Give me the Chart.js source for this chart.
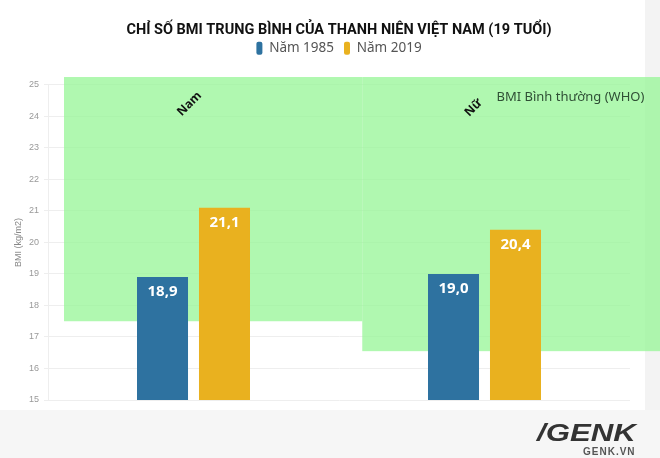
<!DOCTYPE html>
<html><head><meta charset="utf-8">
<script src="https://cdn.jsdelivr.net/npm/chart.js@4/dist/chart.umd.min.js"></script>
<style>html,body{margin:0;padding:0;background:#fff;}#wrap{width:660px;height:458px;position:relative;}</style>
</head><body><div id="wrap"><canvas id="c" width="660" height="458"></canvas></div>
<script>
const categories = ['Nam', 'Nữ'];
const seriesNames = ['Năm 1985', 'Năm 2019'];
const values1985 = [18.9, 19.0];
const values2019 = [21.1, 20.4];
const yMin = 15, yMax = 25, yStep = 1;
const normalTop = [25.25, 25.25];
const normalBottom = [17.5, 16.55];
const titleText = 'CHỈ SỐ BMI TRUNG BÌNH CỦA THANH NIÊN VIỆT NAM (19 TUỔI)';
const yTitle = 'BMI (kg/m2)';
const bandLabel = 'BMI Bình thường (WHO)';

const fmt = v => v.toFixed(1).replace('.', ',');

const bgPlugin = {
  id: 'bg',
  beforeInit(chart) {
    const lg = chart.legend;
    if (lg) {
      const orig = lg.fit.bind(lg);
      lg.fit = function () { orig(); this.height += 20; };
    }
  },
  beforeDraw(chart) {
    const ctx = chart.ctx;
    ctx.save();
    ctx.fillStyle = '#f6f6f6';
    ctx.fillRect(0, 410, chart.width, chart.height - 410);
    ctx.fillStyle = '#f3f3f3';
    ctx.fillRect(645, 0, chart.width - 645, 410);
    ctx.restore();
  }
};

const bandPlugin = {
  id: 'band',
  beforeDatasetsDraw(chart) {
    const ctx = chart.ctx, x = chart.scales.x, y = chart.scales.y;
    const step = x.getPixelForValue(1) - x.getPixelForValue(0);
    const edges = [x.getPixelForValue(0) - 0.445 * step, x.getPixelForValue(0) + 0.58 * step, x.getPixelForValue(1) + 0.61 * step];
    ctx.save();
    ctx.fillStyle = 'rgba(150,245,150,0.75)';
    for (let i = 0; i < categories.length; i++) {
      const t = y.getPixelForValue(normalTop[i]);
      const b = y.getPixelForValue(normalBottom[i]);
      ctx.fillRect(edges[i], t, edges[i + 1] - edges[i], b - t);
    }
    ctx.fillStyle = '#111';
    ctx.font = 'bold 12px "Open Sans", sans-serif';
    ctx.textAlign = 'center';
    ctx.textBaseline = 'middle';
    const catY = [24.4, 24.27];
    const catDx = [-4, -11];
    for (let i = 0; i < categories.length; i++) {
      ctx.save();
      ctx.translate(x.getPixelForValue(i) + catDx[i], y.getPixelForValue(catY[i]));
      ctx.rotate(-Math.PI / 4);
      ctx.fillText(categories[i], 0, 0);
      ctx.restore();
    }
    ctx.fillStyle = '#2f4f35';
    ctx.font = '13px "Noto Sans", sans-serif';
    ctx.textAlign = 'left';
    ctx.fillText(bandLabel, x.getPixelForValue(1) + 12, y.getPixelForValue(24.6));
    ctx.restore();
  }
};

const labelPlugin = {
  id: 'vals',
  afterDatasetsDraw(chart) {
    const ctx = chart.ctx;
    ctx.save();
    ctx.fillStyle = '#fff';
    ctx.font = 'bold 15px "Open Sans", sans-serif';
    ctx.textAlign = 'center';
    ctx.textBaseline = 'middle';
    chart.data.datasets.forEach((ds, di) => {
      chart.getDatasetMeta(di).data.forEach((bar, i) => {
        ctx.fillText(fmt(ds.data[i]), bar.x, bar.y + 15);
      });
    });
    // logo
    ctx.fillStyle = '#333';
    ctx.font = 'italic 900 24px "Liberation Sans", sans-serif';
    ctx.textAlign = 'left';
    ctx.save();
    ctx.translate(537, 434);
    ctx.scale(1.3, 1);
    ctx.fillText('/GENK', 0, 0);
    ctx.restore();
    ctx.fillStyle = '#555';
    ctx.font = 'bold 10px "Liberation Sans", sans-serif';
    try { ctx.letterSpacing = '1px'; } catch (e) {}
    ctx.fillText('GENK.VN', 583, 452);
    ctx.restore();
  }
};

new Chart(document.getElementById('c'), {
  type: 'bar',
  data: {
    labels: categories,
    datasets: [
      { label: seriesNames[0], data: values1985, backgroundColor: '#2e72a0' },
      { label: seriesNames[1], data: values2019, backgroundColor: '#e9b11f' }
    ]
  },
  options: {
    responsive: false,
    animation: false,
    categoryPercentage: 0.426,
    barPercentage: 0.823,
    layout: { padding: { left: 3, right: 30, top: 0, bottom: 58 } },
    plugins: {
      title: {
        display: true, text: titleText, color: '#111', fullSize: false,
        font: { family: 'Roboto, sans-serif', size: 14.5, weight: 'bold' },
        padding: { top: 22, bottom: -8 }
      },
      legend: {
        display: true, fullSize: false,
        labels: {
          color: '#555', boxWidth: 6, boxHeight: 13, useBorderRadius: true, borderRadius: 2,
          font: { family: '"Noto Sans", sans-serif', size: 13.5 }, padding: 10
        }
      },
      tooltip: { enabled: false }
    },
    scales: {
      x: { display: false, grid: { display: false } },
      y: {
        min: yMin, max: yMax,
        afterFit(s) { s.width = 45; },
        ticks: { stepSize: yStep, color: '#999', font: { size: 9 }, padding: 5 },
        grid: { color: '#eeeeee', tickLength: 4 },
        border: { color: '#eeeeee' },
        title: { display: true, text: yTitle, color: '#888', font: { size: 9 }, padding: { top: 10, bottom: 0 } }
      }
    }
  },
  plugins: [bgPlugin, bandPlugin, labelPlugin]
});
</script></body></html>
